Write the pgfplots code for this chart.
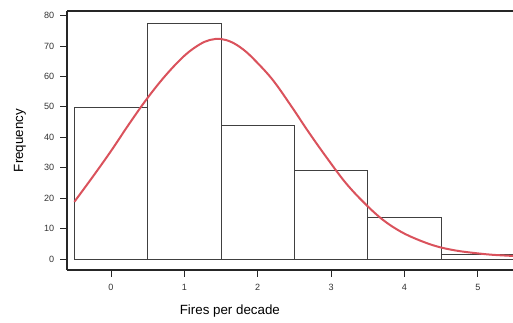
\documentclass[border=0pt]{standalone}
\usepackage{pgfplots}
\pgfplotsset{compat=1.18}
\usepackage{fontspec}
\setmainfont{Liberation Sans}
\definecolor{curvered}{RGB}{218,82,92}
\begin{document}
\begin{tikzpicture}[x=1pt,y=1pt]
\useasboundingbox (-50.25pt,-39pt) rectangle (334.5pt,202.5pt);
\begin{axis}[
  at={(0,0)}, anchor=south west,
  scale only axis,
  width=334.5pt, height=194.25pt,
  xmin=-0.6, xmax=5.48,
  ymin=-3.6, ymax=81.5,
  axis x line=box, axis y line=left,
  axis line style={-, line width=0.8pt, black!85},
  xtick={0,1,2,3,4,5},
  ytick={0,10,20,30,40,50,60,70,80},
  xtick pos=bottom, ytick pos=left,
  tick align=outside,
  major tick length=5pt,
  tick style={line width=0.7pt, black!85},
  /pgf/number format/assume math mode=true,
  tick label style={font=\fontsize{6.8}{7}\selectfont, text=black!80},
  xticklabel style={yshift=-2pt},
  yticklabel style={xshift=-1pt},
  xlabel={Fires per decade},
  ylabel={Frequency},
  xlabel style={font=\fontsize{8}{10}\selectfont, text=black!80},
  ylabel style={font=\fontsize{9.5}{11}\selectfont, text=black!80},
  every axis x label/.style={at={(axis cs:1.62,-3.6)}, anchor=center, yshift=-30.75pt},
  every axis y label/.style={at={(rel axis cs:0,0.5)}, rotate=90, anchor=center, yshift=35.25pt},
  clip=true,
]
\addplot[ybar interval, draw=black!75, fill=none, line width=0.5pt]
  coordinates {(-0.5,50) (0.5,77.5) (1.5,44) (2.5,29) (3.5,13.8) (4.5,1.5) (5.5,1.5)};
\addplot[curvered, line width=1.5pt, smooth, tension=0.6] coordinates {
  (-0.5,18.8) (-0.25,27) (0,35.5) (0.25,44.5) (0.5,53) (0.75,60.5) (1.0,66.8)
  (1.2,70.4) (1.35,72.0) (1.5,72.3) (1.65,71.2) (1.8,68.9) (1.95,65.6) (2.2,59)
  (2.45,50.5) (2.7,41.5)
  (2.95,33) (3.2,25) (3.45,18.5) (3.7,13) (3.95,9) (4.2,6.2) (4.45,4.1)
  (4.7,2.8) (4.95,2.0) (5.2,1.4) (5.5,1.0)};
\end{axis}
\end{tikzpicture}
\end{document}
